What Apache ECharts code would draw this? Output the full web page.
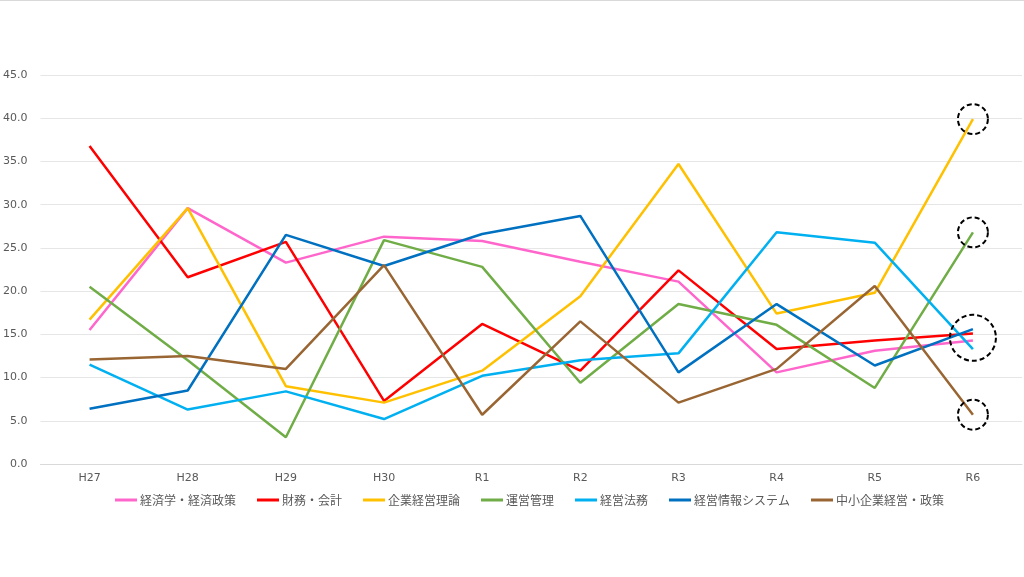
<!DOCTYPE html>
<html>
<head>
<meta charset="utf-8">
<script src="https://cdn.jsdelivr.net/npm/echarts@6/dist/echarts.min.js"></script>
<style>
html,body{margin:0;padding:0;background:#fff;}
#c{width:1024px;height:577px;}
</style>
</head>
<body>
<div id="c"></div>
<script>
const categories = ['H27','H28','H29','H30','R1','R2','R3','R4','R5','R6'];
const seriesNames = ['経済学・経済政策','財務・会計','企業経営理論','運営管理','経営法務','経営情報システム','中小企業経営・政策'];
const keizai   = [15.5, 29.6, 23.3, 26.3, 25.8, 23.4, 21.1, 10.6, 13.1, 14.3];
const zaimu    = [36.8, 21.6, 25.7, 7.3, 16.2, 10.8, 22.4, 13.3, 14.3, 15.1];
const kigyo    = [16.7, 29.6, 9.0, 7.1, 10.8, 19.4, 34.7, 17.4, 19.8, 39.9];
const unei     = [20.5, 12.0, 3.1, 25.9, 22.8, 9.4, 18.5, 16.1, 8.8, 26.8];
const homu     = [11.5, 6.3, 8.4, 5.2, 10.2, 12.0, 12.8, 26.8, 25.6, 13.3];
const joho     = [6.4, 8.5, 26.5, 22.9, 26.6, 28.7, 10.6, 18.5, 11.4, 15.6];
const chusho   = [12.1, 12.5, 11.0, 23.0, 5.7, 16.5, 7.1, 11.0, 20.6, 5.7];
const seriesData = [keizai, zaimu, kigyo, unei, homu, joho, chusho];
const colors = ['#FF66CC','#FF0000','#FFC000','#70AD47','#00B0F0','#0070C0','#996633'];
// dashed annotation circles at R6: [series index, value, size]
const highlights = [[2, 39.9, 30], [3, 26.8, 30], [1, 14.6, 46], [6, 5.7, 30]];
const yTicks = {min: 0, max: 45, interval: 5};

const chart = echarts.init(document.getElementById('c'), null, {renderer: 'canvas'});
const series = seriesNames.map((name, i) => {
  const marks = highlights.filter(h => h[0] === i).map(h => ({
    coord: [categories[categories.length - 1], h[1]],
    symbol: 'circle',
    symbolSize: h[2],
    itemStyle: {color: 'rgba(0,0,0,0)', borderColor: '#000', borderWidth: 2, borderType: [5, 3]},
    label: {show: false}
  }));
  return {
    name: name,
    type: 'line',
    data: seriesData[i],
    symbol: 'none',
    smooth: false,
    lineStyle: {width: 2.5, color: colors[i]},
    itemStyle: {color: colors[i]},
    emphasis: {disabled: true},
    z: 2,
    markPoint: marks.length ? {data: marks, silent: true, animation: false, z: 5} : undefined
  };
});

chart.setOption({
  animation: false,
  textStyle: {fontFamily: '"Noto Sans CJK JP", "Noto Sans", sans-serif'},
  grid: {left: 40, right: 2, top: 75, bottom: 113, containLabel: false},
  legend: {
    data: seriesNames,
    top: 489,
    left: 110,
    itemWidth: 22,
    itemHeight: 3,
    itemGap: 21,
    icon: 'rect',
    textStyle: {color: '#595959', fontSize: 12, padding: [0, 0, 0, -2], fontFamily: '"Noto Sans CJK JP", sans-serif'}
  },
  xAxis: {
    type: 'category',
    data: categories,
    boundaryGap: true,
    axisLine: {show: true, lineStyle: {color: '#d9d9d9', width: 1}},
    axisTick: {show: false},
    axisLabel: {color: '#595959', fontSize: 11, margin: 9, fontFamily: 'Verdana, "DejaVu Sans", sans-serif'}
  },
  yAxis: {
    type: 'value',
    min: yTicks.min, max: yTicks.max, interval: yTicks.interval,
    axisLine: {show: false},
    axisTick: {show: false},
    splitLine: {lineStyle: {color: '#e6e6e6', width: 1}},
    axisLabel: {color: '#595959', fontSize: 11, margin: 13, formatter: v => v.toFixed(1), fontFamily: 'Verdana, "DejaVu Sans", sans-serif'}
  },
  graphic: [{type: 'line', shape: {x1: 0, y1: 0.5, x2: 1024, y2: 0.5}, style: {stroke: '#d9d9d9', lineWidth: 1}, silent: true}],
  series: series
});
</script>
</body>
</html>
